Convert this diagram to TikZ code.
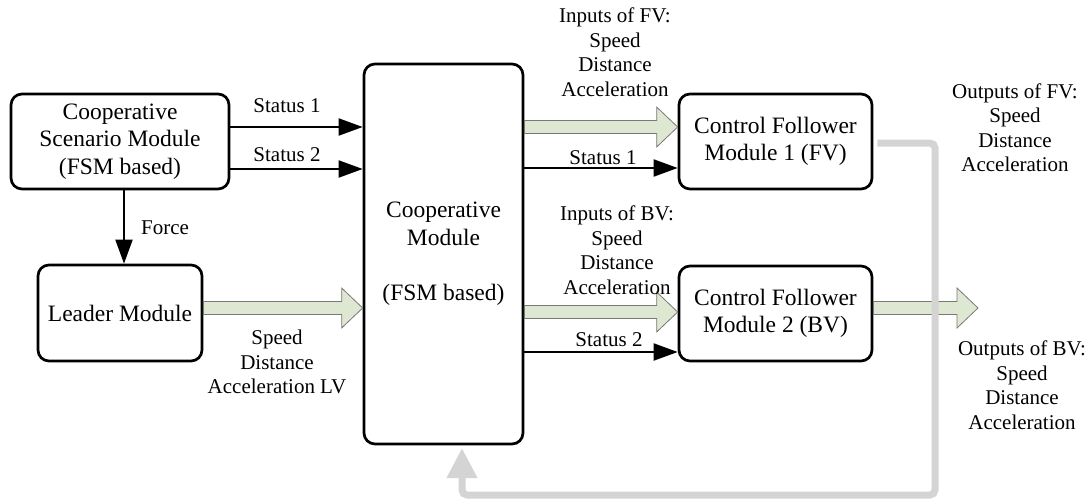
\documentclass[tikz,border=0pt]{standalone}
\usepackage{fontspec}
\setmainfont{Liberation Serif}
\usetikzlibrary{arrows.meta,calc}
\definecolor{fatfill}{RGB}{222,231,210}
\definecolor{fatedge}{RGB}{120,120,120}
\definecolor{fbgray}{RGB}{212,212,212}
\tikzset{
  box/.style={draw=black,line width=2.7pt,rounded corners=11pt,align=center,inner sep=0pt,
    font=\fontsize{23.5}{27.5}\selectfont},
  lbl/.style={align=center,inner sep=0pt,font=\fontsize{21}{24.5}\selectfont},
  blk/.style={line width=2pt,-{Triangle[length=24pt,width=17pt]}},
  fatarrow/.style={draw=fatedge,line width=0.8pt,fill=fatfill,line join=miter},
  feedback/.style={draw=fbgray,line width=7pt,rounded corners=5pt,-{Triangle[length=30pt,width=29pt]}}
}
\newcommand\fatarr[2]{\path[fatarrow] let \p1=#1, \p2=#2 in
  (\x1,\y1+6.5pt) -- (\x2-21pt,\y1+6.5pt) -- (\x2-21pt,\y1+20pt) -- (\x2,\y1)
  -- (\x2-21pt,\y1-20pt) -- (\x2-21pt,\y1-6.5pt) -- (\x1,\y1-6.5pt) -- cycle;}
\begin{document}
\begin{tikzpicture}[x=1pt,y=-1pt]
\useasboundingbox (0,0) rectangle (1091,501);
% boxes
\node[box,minimum width=218pt,minimum height=95pt] (csm) at (120,141.5) {Cooperative\\Scenario Module\\(FSM based)};
\node[box,minimum width=164pt,minimum height=96pt] (leader) at (120,313) {Leader Module};
\node[box,minimum width=159pt,minimum height=380pt] (coop) at (443.5,254) {Cooperative\\Module\\[28pt](FSM based)};
\node[box,minimum width=193pt,minimum height=95pt] (cf1) at (775.5,141.5) {Control Follower\\Module 1 (FV)};
\node[box,minimum width=193pt,minimum height=95pt] (cf2) at (775.5,313.5) {Control Follower\\Module 2 (BV)};
\coordinate (outend) at (978,308);
\coordinate (fbin) at (462,448);
% black arrows
\draw[blk] ([yshift=14.5pt]csm.east) -- ([yshift=14.5pt]csm.east -| coop.west);
\draw[blk] ([yshift=-27.5pt]csm.east) -- ([yshift=-27.5pt]csm.east -| coop.west);
\draw[blk] ([xshift=4pt]csm.south) -- ([xshift=4pt]leader.north);
\draw[blk] ([yshift=-26.5pt]cf1.west -| coop.east) -- ([yshift=-26.5pt]cf1.west);
\draw[blk] ([yshift=-38.5pt]cf2.west -| coop.east) -- ([yshift=-38.5pt]cf2.west);
% fat arrows
\fatarr{([yshift=5pt]leader.east)}{([yshift=5pt]leader.east -| coop.west)}
\fatarr{([yshift=14.5pt]cf1.west -| coop.east)}{([yshift=14.5pt]cf1.west)}
\fatarr{([yshift=1.5pt]cf2.west -| coop.east)}{([yshift=1.5pt]cf2.west)}
\fatarr{(cf2.east |- outend)}{(outend)}
% feedback
\draw[feedback] ([xshift=4pt,yshift=-1.5pt]cf1.east) -| (935,495) -| (fbin);
% labels
\node[lbl] (ls1) at (287,106) {Status 1};
\node[lbl] (ls2) at (287,155) {Status 2};
\node[lbl] (lforce) at (165,228) {Force};
\node[lbl] (llv) at (277,362) {Speed\\Distance\\Acceleration LV};
\node[lbl] (lifv) at (615,52) {Inputs of FV:\\Speed\\Distance\\Acceleration};
\node[lbl] (lrs1) at (603,158) {Status 1};
\node[lbl] (libv) at (617,250) {Inputs of BV:\\Speed\\Distance\\Acceleration};
\node[lbl] (lrs2) at (609,340) {Status 2};
\node[lbl] (lofv) at (1015,127.5) {Outputs of FV:\\Speed\\Distance\\Acceleration};
\node[lbl] (lobv) at (1022,385) {Outputs of BV:\\Speed\\Distance\\Acceleration};
\end{tikzpicture}
\end{document}
